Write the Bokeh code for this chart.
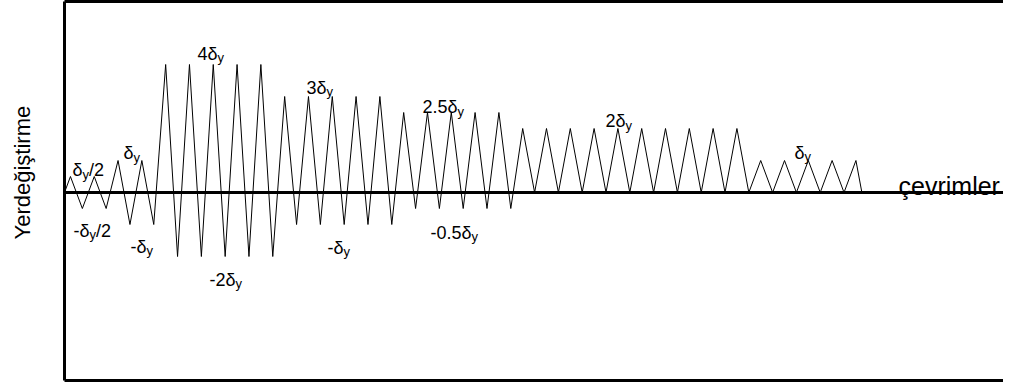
import numpy as np
from bokeh.plotting import figure
from bokeh.layouts import row
from bokeh.models import Range1d, Span, LinearAxis, FixedTicker, ColumnDataSource
from bokeh.core.properties import value
from bokeh.embed import file_html
from bokeh.resources import INLINE

# ---- loading protocol (amplitudes in multiples of delta_y) ----
group_peak = [0.5, 1, 4, 3, 2.5, 2, 1]
group_trough = [-0.5, -1, -2, -1, -0.5, 0, 0]
group_cycles = [2, 2, 5, 5, 5, 10, 5]
end_cycle = 33.5

# ---- annotation labels: prefix + δ + subscript y + suffix ----
label_prefix = ["", "", "-", "-", "4", "-2", "3", "-", "2.5", "-0.5", "2", ""]
label_suffix = ["/2", "", "/2", "", "", "", "", "", "", "", "", ""]
label_x = [0.34, 2.48, 0.38, 2.77, 5.59, 6.09, 10.17, 11.05, 15.04, 15.38, 22.73, 30.67]
label_y = [0.69, 1.22, -1.19, -1.69, 4.34, -2.72, 3.28, -1.72, 2.66, -1.25, 2.22, 1.25]

x_title = "çevrimler"
y_title = "Yerdeğiştirme"

FONT = "Liberation Sans"
FS = 18
SUB_FS = 13
CHAR_W = {"-": 0.333, ".": 0.278, "/": 0.278, "δ": 0.556, "y": 0.5}
for d in "0123456789":
    CHAR_W[d] = 0.556


def text_w(s, fs):
    return sum(CHAR_W.get(c, 0.556) for c in s) * fs


# build displacement history
t = [0.0]
v = [0.0]
k = 0
for pk, tr, n in zip(group_peak, group_trough, group_cycles):
    for _ in range(n):
        t.append(k + 0.25)
        v.append(pk)
        t.append(k + 0.75)
        v.append(tr)
        k += 1
t[-1] = end_cycle
v[-1] = 0.0

H = 382
LW = 62

# narrow side panel holding the vertical axis title
lab = figure(width=LW, height=H, output_backend="svg", toolbar_location=None,
             x_range=Range1d(0, LW), y_range=Range1d(0, H), min_border=0)
lab.outline_line_color = None
lab.axis.visible = False
lab.grid.visible = False
lab.text(x=[22], y=[H - 172.5], text=[y_title], angle=np.pi / 2, text_align="center",
         text_baseline="middle", text_font=value(FONT), text_font_size="22px",
         text_color="black")

p = figure(width=1003 - LW, height=H, output_backend="svg", toolbar_location=None,
           x_range=Range1d(0, 39.45), y_range=Range1d(-5.875, 5.969),
           min_border_left=2, min_border_right=0, min_border_top=1, min_border_bottom=2)
p.outline_line_color = None
p.xgrid.visible = False
p.ygrid.visible = False
p.background_fill_color = "white"
p.border_fill_color = "white"


def style_axis(ax):
    ax.ticker = FixedTicker(ticks=[])
    ax.axis_line_width = 3
    ax.axis_line_color = "black"
    ax.major_tick_out = 0
    ax.major_tick_in = 0
    ax.minor_tick_out = 0
    ax.minor_tick_in = 0
    ax.major_label_standoff = 0
    ax.major_label_text_font_size = "0px"


style_axis(p.xaxis[0])
style_axis(p.yaxis[0])
top_ax = LinearAxis()
style_axis(top_ax)
p.add_layout(top_ax, "above")

p.add_layout(Span(location=0, dimension="width", line_color="black", line_width=3))

p.line(t, v, line_color="black", line_width=1)

main_txt = [a + "δ" for a in label_prefix]
sub_off = [text_w(m, FS) for m in main_txt]
suf_off = [text_w(m, FS) + text_w("y", SUB_FS) for m in main_txt]
src = ColumnDataSource(dict(x=label_x, y=label_y, main=main_txt, sub=["y"] * len(main_txt),
                            suf=label_suffix, sub_off=sub_off, suf_off=suf_off))
p.text(x="x", y="y", text="main", source=src, text_font=value(FONT), text_font_size=f"{FS}px",
       text_align="left", text_baseline="alphabetic", text_color="black")
p.text(x="x", y="y", text="sub", source=src, x_offset="sub_off", y_offset=4,
       text_font=value(FONT), text_font_size=f"{SUB_FS}px",
       text_align="left", text_baseline="alphabetic", text_color="black")
p.text(x="x", y="y", text="suf", source=src, x_offset="suf_off",
       text_font=value(FONT), text_font_size=f"{FS}px",
       text_align="left", text_baseline="alphabetic", text_color="black")

p.text(x=[35.04], y=[0.19], text=[x_title], text_font=value(FONT), text_font_size="25px",
       text_align="left", text_baseline="alphabetic", text_color="black")

layout = row(lab, p, spacing=0)
open("out.html", "w").write(file_html(layout, INLINE))
